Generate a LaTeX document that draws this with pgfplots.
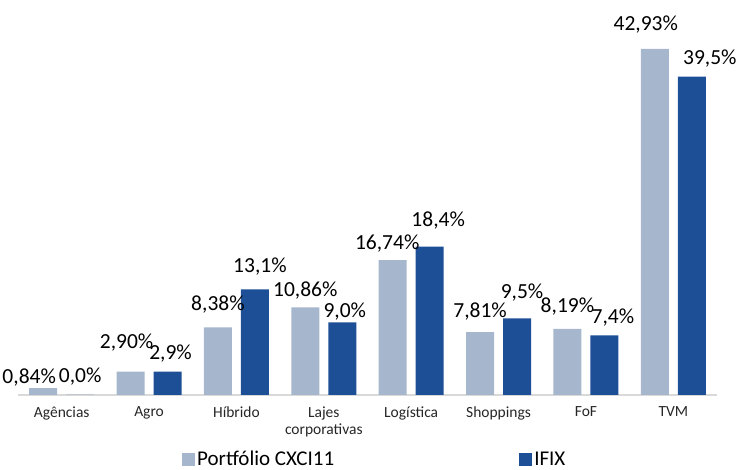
\documentclass[border=0pt]{standalone}
\usepackage{fontspec}
\setmainfont{Carlito}
\usepackage{pgfplots}
\pgfplotsset{compat=1.18}
\definecolor{cxlight}{RGB}{166,183,205}
\definecolor{ifixblue}{RGB}{29,79,150}
\definecolor{axisgray}{RGB}{217,217,217}

% x, value, label (without %), label shifts dx/dy in pt
\pgfplotstableread{
x y lab dx dy
0 0.84 0,84 -14 5
1 2.90 2,90 -4 23
2 8.38 8,38 0 17
3 10.86 10,86 0 11
4 16.74 16,74 -5.5 10
5 7.81 7,81 0 14
6 8.19 8,19 0 16
7 42.93 42,93 -9 18
}\portf

\pgfplotstableread{
x y lab dx dy
0 0.0 0,0 0 12
1 2.9 2,9 3 12
2 13.1 13,1 5 17
3 9.0 9,0 2.5 5
4 18.4 18,4 8.5 20
5 9.5 9,5 5 20
6 7.4 7,4 8.5 12
7 39.5 39,5 18 12
}\ifix

\begin{document}
\begin{tikzpicture}
\begin{axis}[
    name=ax,
    scale only axis,
    width=699pt,
    height=395pt,
    ybar=9pt,
    bar width=28pt,
    ymin=0, ymax=49,
    xmin=-0.5, xmax=7.5,
    axis x line*=bottom,
    axis y line=none,
    x axis line style={-, draw=axisgray, line width=1.5pt},
    xtick=data,
    xticklabels={Agências, Agro, Híbrido, {Lajes\\corporativas}, Logística, Shoppings, FoF, TVM},
    xticklabel style={font=\fontsize{15.5}{17.5}\selectfont, align=center, text=black!85, yshift=-8pt},
    major tick length=0pt,
    clip=false,
    every axis plot/.append style={draw=none},
    point meta=explicit symbolic,
    nodes near coords={\pgfplotspointmeta\%},
    visualization depends on={\thisrow{dx} \as \dx},
    visualization depends on={\thisrow{dy} \as \dy},
    nodes near coords style={font=\fontsize{21.5}{24}\selectfont, text=black,
        inner sep=0pt, text depth=0pt, xshift=\dx pt, yshift=\dy pt},
    every axis plot post/.append style={
        legend image code/.code={\fill[##1] (0pt,-6.5pt) rectangle (13pt,6.5pt);}},
    legend columns=2,
    legend cell align=left,
    legend style={draw=none, fill=none, inner sep=0pt,
        at={(0.2346,-0.163)}, anchor=west,
        font=\fontsize{21}{24}\selectfont,
        nodes={inner sep=2pt},
        /tikz/every even column/.append style={column sep=183pt}},
]
\addplot[fill=cxlight] table[x=x, y=y, meta=lab] {\portf};
\addplot[fill=ifixblue] table[x=x, y=y, meta=lab] {\ifix};
\legend{Portfólio CXCI11, IFIX}
\end{axis}
\pgfresetboundingbox
\path ([xshift=-18pt, yshift=-75pt]ax.south west) rectangle ([xshift=21pt]ax.north east);
\end{tikzpicture}
\end{document}
